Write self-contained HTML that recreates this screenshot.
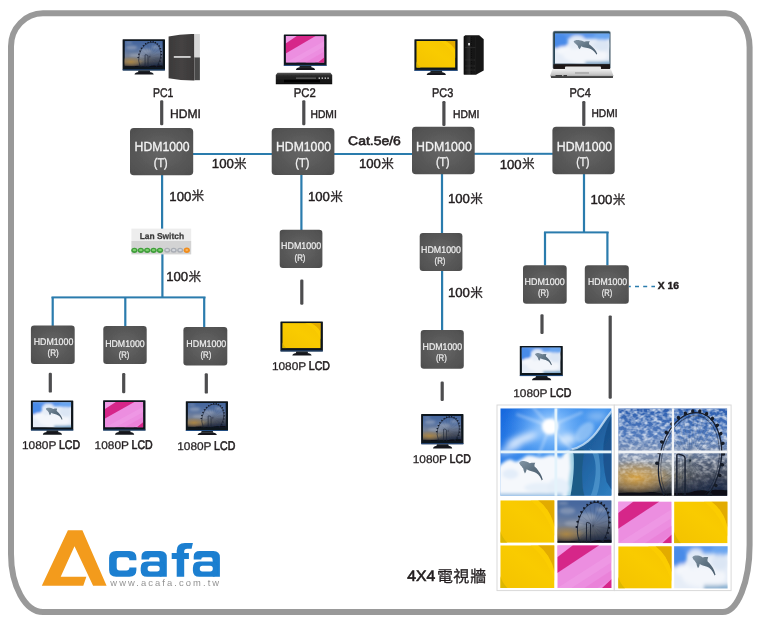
<!DOCTYPE html>
<html><head><meta charset="utf-8"><title>HDM1000</title>
<style>html,body{margin:0;padding:0;background:#fff;}svg{display:block;font-family:"Liberation Sans","Noto Sans CJK TC",sans-serif;text-rendering:geometricPrecision;}</style>
</head><body>
<svg width="760" height="624" viewBox="0 0 760 624">
<defs>

<radialGradient id="gb" cx="50%" cy="50%" r="65%"><stop offset="0" stop-color="#666"/><stop offset="1" stop-color="#4f4f4f"/></radialGradient>
<filter id="b1" x="-20%" y="-20%" width="140%" height="140%"><feGaussianBlur stdDeviation="0.6"/></filter>
<filter id="b2" x="-30%" y="-30%" width="160%" height="160%"><feGaussianBlur stdDeviation="1.6"/></filter>
<filter id="b3" x="-30%" y="-30%" width="160%" height="160%"><feGaussianBlur stdDeviation="3"/></filter>
<filter id="nop" x="0" y="0" width="100%" height="100%" filterUnits="userSpaceOnUse"><feOffset dx="0" dy="0"/></filter>
<filter id="soft"><feGaussianBlur stdDeviation="0.35"/></filter>


<linearGradient id="yl" x1="0" y1="1" x2="1" y2="0"><stop offset="0" stop-color="#f3c200"/><stop offset="0.55" stop-color="#f9cb00"/><stop offset="1" stop-color="#f6c400"/></linearGradient>
<symbol id="sY" viewBox="0 0 54 43" preserveAspectRatio="none">
 <rect width="54" height="43" fill="url(#yl)"/>
 <path d="M37.5 0Q50 9 54 27V0Z" fill="#e2ab00"/>
 <path d="M30 0Q46 12 54 36V27Q50 9 37.5 0Z" fill="#fccf05" opacity="0.7"/>
 <path d="M0 31Q2 38 7 43H0Z" fill="#dcb700"/>
</symbol>
<symbol id="sYm" viewBox="0 0 54 43" preserveAspectRatio="none">
 <rect width="54" height="43" fill="url(#yl)"/>
 <path d="M40 0Q50 6 54 15.5V0Z" fill="#e2ab00"/>
 <path d="M32 0Q47 9 54 28V15.5Q50 6 40 0Z" fill="#fccf05" opacity="0.7"/>
 <path d="M0 33Q2 39 6 43H0Z" fill="#dcb700"/>
</symbol>
<symbol id="sP" viewBox="0 0 54 43" preserveAspectRatio="none">
 <rect width="54" height="43" fill="#ec8ee0"/>
 <path d="M0 0H15.5L0 12Z" fill="#f09ae6"/>
 <path d="M0 12L15.5 0H41.7L0 28Z" fill="#d62789"/>
 <path d="M0 43L54 8V17L14 43Z" fill="#f3a4ea" opacity="0.4"/>
 <path d="M54 25V34L40 43H27Z" fill="#e978d4" opacity="0.55"/>
 <path d="M54 34V43H44.5Z" fill="#d62789"/>
</symbol>


<linearGradient id="dsky" x1="0" y1="0" x2="0.6" y2="1"><stop offset="0" stop-color="#3f82e6"/><stop offset="0.45" stop-color="#6aa2ee"/><stop offset="0.7" stop-color="#cfe0f6"/><stop offset="1" stop-color="#e9f0f9"/></linearGradient>
<linearGradient id="dgr" x1="0" y1="0" x2="1" y2="1"><stop offset="0" stop-color="#8396a6"/><stop offset="0.5" stop-color="#5c7080"/><stop offset="1" stop-color="#4a5d6d"/></linearGradient>
<symbol id="sD" viewBox="0 0 54 36" preserveAspectRatio="none">
 <rect width="54" height="36" fill="#e6edf7"/>
 <g filter="url(#b2)">
  <rect x="-4" y="-6" width="62" height="12" fill="#5b97ec"/>
  <ellipse cx="4" cy="9" rx="9" ry="9" fill="#4a8be8"/>
  <ellipse cx="47" cy="3" rx="9" ry="5" fill="#6aa6f0"/>
  <ellipse cx="22" cy="6" rx="7" ry="4" fill="#dfe9f7"/>
  <ellipse cx="9" cy="20" rx="8" ry="5" fill="#f4f7fb"/>
  <ellipse cx="30" cy="26" rx="22" ry="9" fill="#f3f6fb"/>
  <ellipse cx="46" cy="14" rx="8" ry="7" fill="#dbe6f4"/>
  <rect x="30" y="33.5" width="28" height="4" fill="#6f9fc4"/>
 </g>
 <path d="M0 10C2 6 4 4 6 3C12 0 18 0 24 1C32 2 38 6 44 11C52 8 60 8 67 9C64 15 63 22 64 29C70 35 75 42 79 49C85 58 90 68 93 78L98 96L94 100L91 92C88 84 84 77 79 70C74 64 68 60 62 57C55 54 48 51 41 49L31 43C31 50 28 58 24 64C20 56 18 48 17 39C14 36 12 32 10 27C6 24 4 20 3 17Z" fill="url(#dgr)" transform="translate(18.4 7.7) scale(0.239 0.172)"/>
</symbol>


<linearGradient id="wsky" x1="0" y1="0" x2="1" y2="0.6"><stop offset="0" stop-color="#1566dd"/><stop offset="0.4" stop-color="#3a8cec"/><stop offset="0.7" stop-color="#4a98ee"/><stop offset="1" stop-color="#2a6fc8"/></linearGradient>
<radialGradient id="sun" cx="50%" cy="50%" r="50%"><stop offset="0" stop-color="#fff"/><stop offset="0.25" stop-color="#fff" stop-opacity="0.95"/><stop offset="0.55" stop-color="#cfe6ff" stop-opacity="0.55"/><stop offset="1" stop-color="#9cc8ff" stop-opacity="0"/></radialGradient>
<radialGradient id="sun2" cx="50%" cy="50%" r="50%"><stop offset="0" stop-color="#d8ecff" stop-opacity="0.95"/><stop offset="0.35" stop-color="#8cc4ff" stop-opacity="0.7"/><stop offset="1" stop-color="#4a98ee" stop-opacity="0"/></radialGradient>
<linearGradient id="wav" x1="0" y1="0" x2="1" y2="1"><stop offset="0" stop-color="#2a6aa8"/><stop offset="0.5" stop-color="#1f5f9e"/><stop offset="1" stop-color="#2f7fc0"/></linearGradient>
<symbol id="sDW" viewBox="0 0 111 88" preserveAspectRatio="none">
 <rect width="111" height="88" fill="url(#wsky)"/>
 <ellipse cx="49.6" cy="18.4" rx="46" ry="40" fill="url(#sun2)"/>
 <g filter="url(#b3)">
  <ellipse cx="22" cy="31" rx="17" ry="4.5" fill="#e8f2ff" opacity="0.9" transform="rotate(-20 22 31)"/>
  <ellipse cx="10" cy="41" rx="12" ry="3.5" fill="#dbeaff" opacity="0.8" transform="rotate(-22 10 41)"/>
  <ellipse cx="67" cy="31" rx="9" ry="6" fill="#eef6ff" opacity="0.8"/>
  <ellipse cx="96" cy="8" rx="10" ry="3.5" fill="#bcd9f8" opacity="0.6"/>
 </g>
 <path d="M49.6 18L28 -6M49.6 18L60 -8M49.6 18L82 4M49.6 18L16 6M49.6 18L38 48M49.6 18L72 42" stroke="#fff" stroke-width="2" opacity="0.4" filter="url(#b2)"/>
 <circle cx="49.6" cy="18.4" r="8" fill="#fff" filter="url(#b2)"/>
 <g filter="url(#b1)">
  <path d="M111 3L105.6 10.2Q102 15.5 99 20T92.4 28.3Q88 33 82.6 36.5T71 41.4Q65 44 63 50Q62 60 62 70T58 88H111Z" fill="url(#wav)"/>
  <path d="M111 8C107 16 104 26 103 36C102 48 103 62 106 74L111 82Z" fill="#174b86" opacity="0.75"/>
  <path d="M70 43C74 41 80 40 84 42C82 52 81 64 82 76C82 81 83 85 84 88H66C70 76 71 58 70 43Z" fill="#1f5a84" opacity="0.9"/>
  <path d="M64 47C67 44 71 43 73 46C74 58 73 72 70 88H58C62 76 63 60 64 47Z" fill="#a9d8ea" opacity="0.95"/>
  <path d="M88 40C93 44 96 54 95 66C94 76 92 84 90 88H96C100 78 101 62 98 46Z" fill="#5aa2d6" opacity="0.6"/>
  <path d="M111 3L105.6 10.2Q102 15.5 99 20T92.4 28.3Q88 33 82.6 36.5T71 41.4" stroke="#d6eafa" stroke-width="2.2" fill="none" opacity="0.75"/>
 </g>
 <ellipse cx="84" cy="24" rx="12" ry="7" fill="#cfe6fb" opacity="0.45" transform="rotate(-50 84 24)" filter="url(#b2)"/>
 <g filter="url(#b2)">
  <path d="M-3 60C3 54 8 50 12 52C16 56 20 52 26 48C32 46 38 51 44 49C50 46 56 47 60 50C64 46 66 43 69 42L70 60L66 92H-3Z" fill="#f5f8fc"/>
  <ellipse cx="58" cy="80" rx="11" ry="10" fill="#e6f0fa"/>
  <ellipse cx="10" cy="66" rx="8" ry="5" fill="#dfeaf8" opacity="0.8"/>
  <ellipse cx="40" cy="80" rx="16" ry="5" fill="#e3edf8" opacity="0.8"/>
  <rect x="-2" y="85.5" width="64" height="5" fill="#a9c9e6"/>
 </g>
 <path d="M0 10C2 6 4 4 6 3C12 0 18 0 24 1C32 2 38 6 44 11C52 8 60 8 67 9C64 15 63 22 64 29C70 35 75 42 79 49C85 58 90 68 93 78L98 96L94 100L91 92C88 84 84 77 79 70C74 64 68 60 62 57C55 54 48 51 41 49L31 43C31 50 28 58 24 64C20 56 18 48 17 39C14 36 12 32 10 27C6 24 4 20 3 17Z" fill="url(#dgr)" transform="translate(18.8 53) scale(0.24 0.195)"/>
</symbol>


<linearGradient id="fsky" x1="0" y1="0" x2="0" y2="1"><stop offset="0" stop-color="#2d5fb0"/><stop offset="0.3" stop-color="#4f78bb"/><stop offset="0.55" stop-color="#7d8fae"/><stop offset="0.78" stop-color="#8d8672"/><stop offset="0.9" stop-color="#4a4a4c"/><stop offset="1" stop-color="#0e1218"/></linearGradient>
<radialGradient id="fglow" cx="50%" cy="50%" r="50%"><stop offset="0" stop-color="#d9a23e" stop-opacity="0.95"/><stop offset="0.6" stop-color="#c99a50" stop-opacity="0.5"/><stop offset="1" stop-color="#c09050" stop-opacity="0"/></radialGradient>
<radialGradient id="fdk" cx="50%" cy="50%" r="50%"><stop offset="0" stop-color="#16264a" stop-opacity="0.8"/><stop offset="0.5" stop-color="#16264a" stop-opacity="0.55"/><stop offset="1" stop-color="#1b2a4a" stop-opacity="0"/></radialGradient>
<linearGradient id="cmask" x1="0" y1="0" x2="0" y2="1"><stop offset="0" stop-color="#fff"/><stop offset="0.6" stop-color="#ddd"/><stop offset="0.85" stop-color="#333"/><stop offset="1" stop-color="#000"/></linearGradient>
<mask id="cm" maskUnits="userSpaceOnUse" x="0" y="0" width="109" height="88"><rect width="109" height="88" fill="url(#cmask)"/></mask>
<filter id="cl" x="0" y="0" width="109" height="88" filterUnits="userSpaceOnUse" primitiveUnits="userSpaceOnUse">
 <feTurbulence type="fractalNoise" baseFrequency="0.2 0.27" numOctaves="2" seed="7"/>
 <feColorMatrix type="matrix" values="0 0 0 0 1  0 0 0 0 1  0 0 0 0 1  2.6 0 0 0 -0.95"/>
 <feGaussianBlur stdDeviation="0.6"/>
</filter>
<symbol id="sF" viewBox="0 0 109 88" preserveAspectRatio="none">
 <rect width="109" height="88" fill="url(#fsky)"/>
 <ellipse cx="18" cy="70" rx="36" ry="18" fill="url(#fglow)"/>
 <ellipse cx="100" cy="80" rx="58" ry="42" fill="url(#fdk)"/>
 <g mask="url(#cm)"><rect width="109" height="88" fill="#fff" filter="url(#cl)" opacity="0.7"/></g>
 <path d="M0 85.5C10 84 20 85.5 30 84.5C36 83 40 86 48 86C56 84.5 64 86 70 85C76 83 84 81 90 83.5C96 81 104 82 109 82.5V88H0Z" fill="#0b0e14"/>
 <g fill="none" stroke="#1a2233">
  <ellipse cx="71.8" cy="52.8" rx="30.7" ry="49.0" transform="rotate(11.1 71.8 52.8)" stroke-width="1.3"/>
  <ellipse cx="71.8" cy="52.8" rx="28.5" ry="46.0" transform="rotate(11.1 71.8 52.8)" stroke-width="0.6" opacity="0.8"/>
  <path d="M71.8 52.8L101.9 58.7M71.8 52.8L99.8 67.0M71.8 52.8L96.9 74.8M71.8 52.8L93.2 82.0M71.8 52.8L88.8 88.2M71.8 52.8L83.9 93.4M71.8 52.8L78.7 97.4M71.8 52.8L73.2 100.0M71.8 52.8L67.7 101.2M71.8 52.8L62.4 100.9M71.8 52.8L57.3 99.1M71.8 52.8L52.6 96.0M71.8 52.8L48.6 91.5M71.8 52.8L45.2 85.8M71.8 52.8L42.7 79.2M71.8 52.8L41.0 71.7M71.8 52.8L40.3 63.7M71.8 52.8L40.5 55.3M71.8 52.8L41.7 46.9M71.8 52.8L43.8 38.6M71.8 52.8L46.7 30.8M71.8 52.8L50.4 23.6M71.8 52.8L54.8 17.4M71.8 52.8L59.7 12.2M71.8 52.8L64.9 8.2M71.8 52.8L70.4 5.6M71.8 52.8L75.9 4.4M71.8 52.8L81.2 4.7M71.8 52.8L86.3 6.5M71.8 52.8L91.0 9.6M71.8 52.8L95.0 14.1M71.8 52.8L98.4 19.8M71.8 52.8L100.9 26.4M71.8 52.8L102.6 33.9M71.8 52.8L103.3 41.9M71.8 52.8L103.1 50.3" stroke-width="0.25" opacity="0.55"/>
  <path d="M58.6 88V47.5Q58.6 45.6 60.5 46L65 47.6Q66.8 48.4 66.8 50.2V88" stroke-width="1.5"/>
  <path d="M60.8 88V50M64.6 88V52" stroke-width="0.5" opacity="0.7"/>
 </g>
 <g fill="#141a28"><ellipse cx="38.9" cy="55.3" rx="1.7" ry="2.1" transform="rotate(-89 38.9 55.3)"/><ellipse cx="40.6" cy="44.4" rx="1.7" ry="2.1" transform="rotate(-76 40.6 44.4)"/><ellipse cx="43.7" cy="33.9" rx="1.7" ry="2.1" transform="rotate(-64 43.7 33.9)"/><ellipse cx="48.2" cy="24.4" rx="1.7" ry="2.1" transform="rotate(-51 48.2 24.4)"/><ellipse cx="53.8" cy="16.1" rx="1.7" ry="2.1" transform="rotate(-39 53.8 16.1)"/><ellipse cx="60.2" cy="9.6" rx="1.7" ry="2.1" transform="rotate(-26 60.2 9.6)"/><ellipse cx="67.2" cy="5.2" rx="1.7" ry="2.1" transform="rotate(-14 67.2 5.2)"/><ellipse cx="74.5" cy="3.0" rx="1.7" ry="2.1" transform="rotate(-1 74.5 3.0)"/><ellipse cx="81.5" cy="3.1" rx="1.7" ry="2.1" transform="rotate(11 81.5 3.1)"/><ellipse cx="88.2" cy="5.7" rx="1.7" ry="2.1" transform="rotate(24 88.2 5.7)"/><ellipse cx="94.0" cy="10.4" rx="1.7" ry="2.1" transform="rotate(36 94.0 10.4)"/><ellipse cx="98.8" cy="17.2" rx="1.7" ry="2.1" transform="rotate(49 98.8 17.2)"/><ellipse cx="102.3" cy="25.6" rx="1.7" ry="2.1" transform="rotate(61 102.3 25.6)"/><ellipse cx="104.4" cy="35.4" rx="1.7" ry="2.1" transform="rotate(74 104.4 35.4)"/><ellipse cx="104.9" cy="46.0" rx="1.7" ry="2.1" transform="rotate(86 104.9 46.0)"/><ellipse cx="103.9" cy="56.8" rx="1.7" ry="2.1" transform="rotate(99 103.9 56.8)"/><ellipse cx="101.3" cy="67.5" rx="1.7" ry="2.1" transform="rotate(111 101.3 67.5)"/><ellipse cx="97.4" cy="77.5" rx="1.7" ry="2.1" transform="rotate(124 97.4 77.5)"/><ellipse cx="92.2" cy="86.4" rx="1.7" ry="2.1" transform="rotate(136 92.2 86.4)"/></g>
</symbol>

<symbol id="sFs" viewBox="0 0 109 88" preserveAspectRatio="none">
 <rect width="109" height="88" fill="url(#fsky)"/>
 <ellipse cx="18" cy="70" rx="36" ry="18" fill="url(#fglow)"/>
 <ellipse cx="100" cy="80" rx="58" ry="42" fill="url(#fdk)"/>
 <g mask="url(#cm)"><rect width="109" height="88" fill="#fff" opacity="0.16"/>
  <g filter="url(#b3)" fill="#fff" opacity="0.4"><ellipse cx="20" cy="22" rx="16" ry="7"/><ellipse cx="60" cy="34" rx="18" ry="8"/><ellipse cx="34" cy="48" rx="20" ry="6"/><ellipse cx="88" cy="20" rx="10" ry="5"/><ellipse cx="12" cy="6" rx="10" ry="3"/></g></g>
 <rect width="109" height="88" fill="#20283a" opacity="0.25"/>
 <path d="M0 85.5C10 84 20 85.5 30 84.5C36 83 40 86 48 86C56 84.5 64 86 70 85C76 83 84 81 90 83.5C96 81 104 82 109 82.5V88H0Z" fill="#0b0e14"/>
 <g fill="none" stroke="#1a2233">
  <ellipse cx="71.8" cy="52.8" rx="30.7" ry="49.0" transform="rotate(11.1 71.8 52.8)" stroke-width="1.7"/>
  <path d="M71.8 52.8L101.9 58.7M71.8 52.8L96.9 74.8M71.8 52.8L88.8 88.2M71.8 52.8L78.7 97.4M71.8 52.8L67.7 101.2M71.8 52.8L57.3 99.1M71.8 52.8L48.6 91.5M71.8 52.8L42.7 79.2M71.8 52.8L40.3 63.7M71.8 52.8L41.7 46.9M71.8 52.8L46.7 30.8M71.8 52.8L54.8 17.4M71.8 52.8L64.9 8.2M71.8 52.8L75.9 4.4M71.8 52.8L86.3 6.5M71.8 52.8L95.0 14.1M71.8 52.8L100.9 26.4M71.8 52.8L103.3 41.9" stroke-width="0.5" opacity="0.4"/>
  <path d="M58.6 88V47.5Q58.6 45.6 60.5 46L65 47.6Q66.8 48.4 66.8 50.2V88" stroke-width="1.9"/>
 </g>
 <g fill="#141a28" transform="translate(71.8 52.8) scale(1.0) translate(-71.8 -52.8)"><ellipse cx="38.9" cy="55.3" rx="2.0" ry="2.5" transform="rotate(-89 38.9 55.3)"/><ellipse cx="40.6" cy="44.4" rx="2.0" ry="2.5" transform="rotate(-76 40.6 44.4)"/><ellipse cx="43.7" cy="33.9" rx="2.0" ry="2.5" transform="rotate(-64 43.7 33.9)"/><ellipse cx="48.2" cy="24.4" rx="2.0" ry="2.5" transform="rotate(-51 48.2 24.4)"/><ellipse cx="53.8" cy="16.1" rx="2.0" ry="2.5" transform="rotate(-39 53.8 16.1)"/><ellipse cx="60.2" cy="9.6" rx="2.0" ry="2.5" transform="rotate(-26 60.2 9.6)"/><ellipse cx="67.2" cy="5.2" rx="2.0" ry="2.5" transform="rotate(-14 67.2 5.2)"/><ellipse cx="74.5" cy="3.0" rx="2.0" ry="2.5" transform="rotate(-1 74.5 3.0)"/><ellipse cx="81.5" cy="3.1" rx="2.0" ry="2.5" transform="rotate(11 81.5 3.1)"/><ellipse cx="88.2" cy="5.7" rx="2.0" ry="2.5" transform="rotate(24 88.2 5.7)"/><ellipse cx="94.0" cy="10.4" rx="2.0" ry="2.5" transform="rotate(36 94.0 10.4)"/><ellipse cx="98.8" cy="17.2" rx="2.0" ry="2.5" transform="rotate(49 98.8 17.2)"/><ellipse cx="102.3" cy="25.6" rx="2.0" ry="2.5" transform="rotate(61 102.3 25.6)"/><ellipse cx="104.4" cy="35.4" rx="2.0" ry="2.5" transform="rotate(74 104.4 35.4)"/><ellipse cx="104.9" cy="46.0" rx="2.0" ry="2.5" transform="rotate(86 104.9 46.0)"/><ellipse cx="103.9" cy="56.8" rx="2.0" ry="2.5" transform="rotate(99 103.9 56.8)"/><ellipse cx="101.3" cy="67.5" rx="2.0" ry="2.5" transform="rotate(111 101.3 67.5)"/><ellipse cx="97.4" cy="77.5" rx="2.0" ry="2.5" transform="rotate(124 97.4 77.5)"/><ellipse cx="92.2" cy="86.4" rx="2.0" ry="2.5" transform="rotate(136 92.2 86.4)"/></g>
</symbol>


<linearGradient id="twr" x1="0" y1="0" x2="1" y2="0"><stop offset="0" stop-color="#3b3939"/><stop offset="0.5" stop-color="#454343"/><stop offset="1" stop-color="#3a3838"/></linearGradient>
<linearGradient id="slim" x1="0" y1="0" x2="1" y2="0"><stop offset="0" stop-color="#0d0d0d"/><stop offset="0.45" stop-color="#2b2b2b"/><stop offset="0.6" stop-color="#111"/><stop offset="1" stop-color="#1d1d1d"/></linearGradient>
<linearGradient id="dvd" x1="0" y1="0" x2="0" y2="1"><stop offset="0" stop-color="#5a5a5a"/><stop offset="0.25" stop-color="#2a2a2a"/><stop offset="1" stop-color="#0c0c0c"/></linearGradient>
<linearGradient id="lap" x1="0" y1="0" x2="0" y2="1"><stop offset="0" stop-color="#f0f0f0"/><stop offset="0.6" stop-color="#c9c9c9"/><stop offset="1" stop-color="#8a8a8a"/></linearGradient>

<filter id="jpg" x="0" y="0" width="760" height="624" filterUnits="userSpaceOnUse"><feGaussianBlur stdDeviation="0.45"/></filter>
</defs>
<rect width="760" height="624" fill="#fff"/>
<g filter="url(#jpg)">
<path d="M43 13.3H725.6A24 34 0 0 1 749.6 47.3V545A27 67 0 0 1 722.6 612H43A32 58 0 0 1 11 554V46.3A32 33 0 0 1 43 13.3Z" fill="#fff" stroke="#999" stroke-width="6"/>
<g id="lines">
<rect x="193.0" y="153.0" width="79.0" height="2" fill="#2b7bad"/>
<rect x="334.0" y="153.0" width="78.0" height="2" fill="#2b7bad"/>
<rect x="474.0" y="152.8" width="79.0" height="2" fill="#2b7bad"/>
<rect x="161.0" y="175.0" width="2.2" height="54.0" fill="#2b7bad"/>
<rect x="161.3" y="254.0" width="2.2" height="43.4" fill="#2b7bad"/>
<rect x="51.5" y="296.4" width="154.0" height="2" fill="#2b7bad"/>
<rect x="51.6" y="297.0" width="2.2" height="29.0" fill="#2b7bad"/>
<rect x="124.2" y="297.0" width="2.2" height="29.0" fill="#2b7bad"/>
<rect x="203.1" y="297.0" width="2.2" height="30.5" fill="#2b7bad"/>
<rect x="300.3" y="175.0" width="2.2" height="55.5" fill="#2b7bad"/>
<rect x="440.9" y="174.0" width="2.2" height="59.0" fill="#2b7bad"/>
<rect x="441.0" y="271.0" width="2.2" height="59.5" fill="#2b7bad"/>
<rect x="582.9" y="174.0" width="2.2" height="58.5" fill="#2b7bad"/>
<rect x="544.0" y="231.4" width="64.6" height="2" fill="#2b7bad"/>
<rect x="543.9" y="232.0" width="2.2" height="33.5" fill="#2b7bad"/>
<rect x="606.3" y="232.0" width="2.2" height="33.5" fill="#2b7bad"/>
<path d="M628.8 286.5H655" stroke="#2b7bad" stroke-width="1.3" stroke-dasharray="4 4.2" stroke-dashoffset="2" fill="none"/>
</g>
<g id="dlines">
<rect x="160.1" y="100.3" width="3.2" height="25.0" rx="1.2" fill="#4d4d4f"/>
<rect x="302.2" y="100.3" width="3.2" height="25.0" rx="1.2" fill="#4d4d4f"/>
<rect x="442.3" y="101.0" width="3.2" height="25.0" rx="1.2" fill="#4d4d4f"/>
<rect x="582.2" y="101.0" width="3.2" height="25.0" rx="1.2" fill="#4d4d4f"/>
<rect x="48.7" y="372.7" width="3.2" height="19.9" rx="1.2" fill="#4d4d4f"/>
<rect x="122.1" y="373.0" width="3.2" height="20.3" rx="1.2" fill="#4d4d4f"/>
<rect x="204.7" y="373.3" width="3.2" height="20.3" rx="1.2" fill="#4d4d4f"/>
<rect x="300.2" y="279.6" width="3.2" height="25.1" rx="1.2" fill="#4d4d4f"/>
<rect x="440.6" y="381.6" width="3.2" height="19.4" rx="1.2" fill="#4d4d4f"/>
<rect x="540.4" y="314.2" width="3.2" height="19.8" rx="1.2" fill="#4d4d4f"/>
<rect x="608.6" y="315.4" width="3.2" height="83.3" rx="1.2" fill="#4d4d4f"/>
</g>
<g id="rects"><rect x="130" y="128" width="63.2" height="47.3" rx="3.8" fill="url(#gb)"/><rect x="271.7" y="128" width="62.7" height="47.0" rx="3.8" fill="url(#gb)"/><rect x="412" y="126.8" width="62.7" height="47.5" rx="3.8" fill="url(#gb)"/><rect x="552.4" y="126.8" width="62.3" height="47.5" rx="3.8" fill="url(#gb)"/><rect x="30.9" y="325.6" width="43.8" height="38.3" rx="3.2" fill="url(#gb)"/><rect x="103.3" y="326" width="43.4" height="37.9" rx="3.2" fill="url(#gb)"/><rect x="183.4" y="327" width="43.9" height="38.4" rx="3.2" fill="url(#gb)"/><rect x="279.7" y="229.8" width="42.7" height="38.2" rx="3.2" fill="url(#gb)"/><rect x="419.7" y="233" width="42.7" height="38.0" rx="3.2" fill="url(#gb)"/><rect x="420.7" y="330.1" width="43.1" height="38.6" rx="3.2" fill="url(#gb)"/><rect x="523" y="265.3" width="43.7" height="38.4" rx="3.2" fill="url(#gb)"/><rect x="584.8" y="265.3" width="44.0" height="38.4" rx="3.2" fill="url(#gb)"/></g>
<g id="alltext" filter="url(#nop)">
<text x="134.6" y="151.4" font-size="13.2" font-weight="normal" fill="#f4f4f4" textLength="55.0" lengthAdjust="spacingAndGlyphs"  stroke="#f4f4f4" stroke-width="0.3">HDM1000</text><text x="153.8" y="167.1" font-size="12.6" font-weight="normal" fill="#f4f4f4" textLength="13.9" lengthAdjust="spacingAndGlyphs"  stroke="#f4f4f4" stroke-width="0.3">(T)</text>
<text x="276.0" y="151.4" font-size="13.2" font-weight="normal" fill="#f4f4f4" textLength="55.0" lengthAdjust="spacingAndGlyphs"  stroke="#f4f4f4" stroke-width="0.3">HDM1000</text><text x="295.3" y="167.1" font-size="12.6" font-weight="normal" fill="#f4f4f4" textLength="14.0" lengthAdjust="spacingAndGlyphs"  stroke="#f4f4f4" stroke-width="0.3">(T)</text>
<text x="416.0" y="150.7" font-size="13.2" font-weight="normal" fill="#f4f4f4" textLength="55.8" lengthAdjust="spacingAndGlyphs"  stroke="#f4f4f4" stroke-width="0.3">HDM1000</text><text x="436.0" y="166.3" font-size="12.6" font-weight="normal" fill="#f4f4f4" textLength="13.6" lengthAdjust="spacingAndGlyphs"  stroke="#f4f4f4" stroke-width="0.3">(T)</text>
<text x="556.8" y="150.7" font-size="13.2" font-weight="normal" fill="#f4f4f4" textLength="55.4" lengthAdjust="spacingAndGlyphs"  stroke="#f4f4f4" stroke-width="0.3">HDM1000</text><text x="576.3" y="166.3" font-size="12.6" font-weight="normal" fill="#f4f4f4" textLength="13.3" lengthAdjust="spacingAndGlyphs"  stroke="#f4f4f4" stroke-width="0.3">(T)</text>
<text x="33.7" y="345.0" font-size="9.7" font-weight="normal" fill="#f0f0f0" textLength="39.6" lengthAdjust="spacingAndGlyphs"  stroke="#f0f0f0" stroke-width="0.2">HDM1000</text><text x="47.5" y="355.8" font-size="9.6" font-weight="normal" fill="#f0f0f0" textLength="11.3" lengthAdjust="spacingAndGlyphs"  stroke="#f0f0f0" stroke-width="0.2">(R)</text>
<text x="105.2" y="346.9" font-size="9.7" font-weight="normal" fill="#f0f0f0" textLength="39.5" lengthAdjust="spacingAndGlyphs"  stroke="#f0f0f0" stroke-width="0.2">HDM1000</text><text x="118.7" y="358.2" font-size="9.6" font-weight="normal" fill="#f0f0f0" textLength="10.7" lengthAdjust="spacingAndGlyphs"  stroke="#f0f0f0" stroke-width="0.2">(R)</text>
<text x="186.3" y="346.9" font-size="9.7" font-weight="normal" fill="#f0f0f0" textLength="40.0" lengthAdjust="spacingAndGlyphs"  stroke="#f0f0f0" stroke-width="0.2">HDM1000</text><text x="200.5" y="358.2" font-size="9.6" font-weight="normal" fill="#f0f0f0" textLength="10.9" lengthAdjust="spacingAndGlyphs"  stroke="#f0f0f0" stroke-width="0.2">(R)</text>
<text x="281.1" y="249.2" font-size="9.7" font-weight="normal" fill="#f0f0f0" textLength="40.1" lengthAdjust="spacingAndGlyphs"  stroke="#f0f0f0" stroke-width="0.2">HDM1000</text><text x="294.6" y="261.1" font-size="9.6" font-weight="normal" fill="#f0f0f0" textLength="10.8" lengthAdjust="spacingAndGlyphs"  stroke="#f0f0f0" stroke-width="0.2">(R)</text>
<text x="421.1" y="252.5" font-size="9.7" font-weight="normal" fill="#f0f0f0" textLength="39.8" lengthAdjust="spacingAndGlyphs"  stroke="#f0f0f0" stroke-width="0.2">HDM1000</text><text x="434.6" y="263.9" font-size="9.6" font-weight="normal" fill="#f0f0f0" textLength="10.8" lengthAdjust="spacingAndGlyphs"  stroke="#f0f0f0" stroke-width="0.2">(R)</text>
<text x="422.6" y="349.5" font-size="9.7" font-weight="normal" fill="#f0f0f0" textLength="39.5" lengthAdjust="spacingAndGlyphs"  stroke="#f0f0f0" stroke-width="0.2">HDM1000</text><text x="436.0" y="360.6" font-size="9.6" font-weight="normal" fill="#f0f0f0" textLength="10.9" lengthAdjust="spacingAndGlyphs"  stroke="#f0f0f0" stroke-width="0.2">(R)</text>
<text x="524.5" y="284.9" font-size="9.7" font-weight="normal" fill="#f0f0f0" textLength="40.2" lengthAdjust="spacingAndGlyphs"  stroke="#f0f0f0" stroke-width="0.2">HDM1000</text><text x="537.9" y="295.8" font-size="9.6" font-weight="normal" fill="#f0f0f0" textLength="10.9" lengthAdjust="spacingAndGlyphs"  stroke="#f0f0f0" stroke-width="0.2">(R)</text>
<text x="588.0" y="284.9" font-size="9.7" font-weight="normal" fill="#f0f0f0" textLength="39.1" lengthAdjust="spacingAndGlyphs"  stroke="#f0f0f0" stroke-width="0.2">HDM1000</text><text x="601.8" y="295.8" font-size="9.6" font-weight="normal" fill="#f0f0f0" textLength="10.5" lengthAdjust="spacingAndGlyphs"  stroke="#f0f0f0" stroke-width="0.2">(R)</text>
<text x="153.0" y="97.0" font-size="12.6" font-weight="normal" fill="#231f20" textLength="20.4" lengthAdjust="spacingAndGlyphs"  stroke="#231f20" stroke-width="0.42">PC1</text>
<text x="293.8" y="97.4" font-size="12.6" font-weight="normal" fill="#231f20" textLength="22.0" lengthAdjust="spacingAndGlyphs"  stroke="#231f20" stroke-width="0.42">PC2</text>
<text x="432.0" y="97.0" font-size="12.6" font-weight="normal" fill="#231f20" textLength="21.2" lengthAdjust="spacingAndGlyphs"  stroke="#231f20" stroke-width="0.42">PC3</text>
<text x="569.4" y="97.0" font-size="12.6" font-weight="normal" fill="#231f20" textLength="21.4" lengthAdjust="spacingAndGlyphs"  stroke="#231f20" stroke-width="0.42">PC4</text>
<text x="170.0" y="117.7" font-size="12.3" font-weight="normal" fill="#231f20" textLength="30.9" lengthAdjust="spacingAndGlyphs"  stroke="#231f20" stroke-width="0.42">HDMI</text>
<text x="310.5" y="117.7" font-size="11.2" font-weight="normal" fill="#231f20" textLength="26.3" lengthAdjust="spacingAndGlyphs"  stroke="#231f20" stroke-width="0.42">HDMI</text>
<text x="453.0" y="117.7" font-size="11.2" font-weight="normal" fill="#231f20" textLength="26.4" lengthAdjust="spacingAndGlyphs"  stroke="#231f20" stroke-width="0.42">HDMI</text>
<text x="591.5" y="116.9" font-size="11.2" font-weight="normal" fill="#231f20" textLength="26.1" lengthAdjust="spacingAndGlyphs"  stroke="#231f20" stroke-width="0.42">HDMI</text>
<text x="348.1" y="144.9" font-size="12.4" font-weight="normal" fill="#231f20" textLength="52.8" lengthAdjust="spacingAndGlyphs"  stroke="#231f20" stroke-width="0.55">Cat.5e/6</text>
<text x="211.8" y="168.4" font-size="13" font-weight="normal" fill="#231f20" textLength="22.0" lengthAdjust="spacingAndGlyphs"  stroke="#231f20" stroke-width="0.42">100</text>
<text x="234.1" y="168.1" font-size="12.6" font-family='"Liberation Sans","Noto Sans CJK TC",sans-serif' fill="#231f20" stroke="#231f20" stroke-width="0.3">米</text>
<text x="358.9" y="168.4" font-size="13" font-weight="normal" fill="#231f20" textLength="22.0" lengthAdjust="spacingAndGlyphs"  stroke="#231f20" stroke-width="0.42">100</text>
<text x="381.2" y="168.1" font-size="12.6" font-family='"Liberation Sans","Noto Sans CJK TC",sans-serif' fill="#231f20" stroke="#231f20" stroke-width="0.3">米</text>
<text x="499.7" y="168.6" font-size="13" font-weight="normal" fill="#231f20" textLength="22.0" lengthAdjust="spacingAndGlyphs"  stroke="#231f20" stroke-width="0.42">100</text>
<text x="522.0" y="168.3" font-size="12.6" font-family='"Liberation Sans","Noto Sans CJK TC",sans-serif' fill="#231f20" stroke="#231f20" stroke-width="0.3">米</text>
<text x="169.3" y="200.6" font-size="13" font-weight="normal" fill="#231f20" textLength="22.0" lengthAdjust="spacingAndGlyphs"  stroke="#231f20" stroke-width="0.42">100</text>
<text x="191.6" y="200.3" font-size="12.6" font-family='"Liberation Sans","Noto Sans CJK TC",sans-serif' fill="#231f20" stroke="#231f20" stroke-width="0.3">米</text>
<text x="166.2" y="281.3" font-size="13" font-weight="normal" fill="#231f20" textLength="22.0" lengthAdjust="spacingAndGlyphs"  stroke="#231f20" stroke-width="0.42">100</text>
<text x="188.5" y="281.0" font-size="12.6" font-family='"Liberation Sans","Noto Sans CJK TC",sans-serif' fill="#231f20" stroke="#231f20" stroke-width="0.3">米</text>
<text x="307.9" y="200.8" font-size="13" font-weight="normal" fill="#231f20" textLength="22.0" lengthAdjust="spacingAndGlyphs"  stroke="#231f20" stroke-width="0.42">100</text>
<text x="330.2" y="200.5" font-size="12.6" font-family='"Liberation Sans","Noto Sans CJK TC",sans-serif' fill="#231f20" stroke="#231f20" stroke-width="0.3">米</text>
<text x="447.9" y="203.4" font-size="13" font-weight="normal" fill="#231f20" textLength="22.0" lengthAdjust="spacingAndGlyphs"  stroke="#231f20" stroke-width="0.42">100</text>
<text x="470.2" y="203.1" font-size="12.6" font-family='"Liberation Sans","Noto Sans CJK TC",sans-serif' fill="#231f20" stroke="#231f20" stroke-width="0.3">米</text>
<text x="447.9" y="297.2" font-size="13" font-weight="normal" fill="#231f20" textLength="22.0" lengthAdjust="spacingAndGlyphs"  stroke="#231f20" stroke-width="0.42">100</text>
<text x="470.2" y="296.9" font-size="12.6" font-family='"Liberation Sans","Noto Sans CJK TC",sans-serif' fill="#231f20" stroke="#231f20" stroke-width="0.3">米</text>
<text x="590.4" y="204.1" font-size="13" font-weight="normal" fill="#231f20" textLength="22.0" lengthAdjust="spacingAndGlyphs"  stroke="#231f20" stroke-width="0.42">100</text>
<text x="612.7" y="203.8" font-size="12.6" font-family='"Liberation Sans","Noto Sans CJK TC",sans-serif' fill="#231f20" stroke="#231f20" stroke-width="0.3">米</text>
<text x="22.0" y="448.7" font-size="11.2" font-weight="normal" fill="#231f20" textLength="34.3" lengthAdjust="spacingAndGlyphs"  stroke="#231f20" stroke-width="0.25">1080P</text>
<text x="58.9" y="448.7" font-size="12.6" font-weight="normal" fill="#231f20" textLength="21.2" lengthAdjust="spacingAndGlyphs"  stroke="#231f20" stroke-width="0.65">LCD</text>
<text x="94.6" y="448.6" font-size="11.2" font-weight="normal" fill="#231f20" textLength="34.3" lengthAdjust="spacingAndGlyphs"  stroke="#231f20" stroke-width="0.25">1080P</text>
<text x="131.5" y="448.6" font-size="12.6" font-weight="normal" fill="#231f20" textLength="21.2" lengthAdjust="spacingAndGlyphs"  stroke="#231f20" stroke-width="0.65">LCD</text>
<text x="177.2" y="449.7" font-size="11.2" font-weight="normal" fill="#231f20" textLength="34.3" lengthAdjust="spacingAndGlyphs"  stroke="#231f20" stroke-width="0.25">1080P</text>
<text x="214.1" y="449.7" font-size="12.6" font-weight="normal" fill="#231f20" textLength="21.2" lengthAdjust="spacingAndGlyphs"  stroke="#231f20" stroke-width="0.65">LCD</text>
<text x="271.9" y="370.2" font-size="11.2" font-weight="normal" fill="#231f20" textLength="34.3" lengthAdjust="spacingAndGlyphs"  stroke="#231f20" stroke-width="0.25">1080P</text>
<text x="308.8" y="370.2" font-size="12.6" font-weight="normal" fill="#231f20" textLength="21.2" lengthAdjust="spacingAndGlyphs"  stroke="#231f20" stroke-width="0.65">LCD</text>
<text x="412.7" y="462.8" font-size="11.2" font-weight="normal" fill="#231f20" textLength="34.3" lengthAdjust="spacingAndGlyphs"  stroke="#231f20" stroke-width="0.25">1080P</text>
<text x="449.6" y="462.8" font-size="12.6" font-weight="normal" fill="#231f20" textLength="21.2" lengthAdjust="spacingAndGlyphs"  stroke="#231f20" stroke-width="0.65">LCD</text>
<text x="513.2" y="397.1" font-size="11.2" font-weight="normal" fill="#231f20" textLength="34.3" lengthAdjust="spacingAndGlyphs"  stroke="#231f20" stroke-width="0.25">1080P</text>
<text x="550.1" y="397.1" font-size="12.6" font-weight="normal" fill="#231f20" textLength="21.2" lengthAdjust="spacingAndGlyphs"  stroke="#231f20" stroke-width="0.65">LCD</text>
<text x="657.8" y="288.6" font-size="10.2" font-weight="bold" fill="#231f20" textLength="21.2" lengthAdjust="spacingAndGlyphs"  stroke="#231f20" stroke-width="0.42">X 16</text>
<text x="407.3" y="581.4" font-size="15.2" font-weight="normal" fill="#231f20" textLength="28.0" lengthAdjust="spacingAndGlyphs"  stroke="#231f20" stroke-width="0.6">4X4</text>
<text x="437 453.2 470.2" y="582" font-size="16" font-family='"Liberation Sans","Noto Sans CJK TC",sans-serif' fill="#231f20" stroke="#231f20" stroke-width="0.3">電視牆</text>
</g>
<g id="devices">
<rect x="122.6" y="39.2" width="42.4" height="31.2" rx="0.6" fill="#11161c"/><rect x="122.6" y="69.5" width="42.4" height="0.9" fill="#27558f"/><use href="#sFs" x="124.5" y="40.9" width="38.3" height="26.4"/><path d="M138.5 70.4H149.7L150.3 72.3H137.9Z" fill="#1b2026"/><path d="M134.5 74.6Q134.9 72.1 139.1 71.9H149.1Q153.3 72.1 153.7 74.6Z" fill="#14181d"/>
<path d="M168.6 36.6Q181 33.6 194.4 34V80.5Q181 80.6 168.6 78.2Z" fill="url(#twr)"/>
<rect x="194.4" y="34" width="5.5" height="23.4" fill="#d6d6d6"/><rect x="194.4" y="57.4" width="5.5" height="22.8" fill="#4a4a4a"/>
<rect x="173.8" y="56" width="16.8" height="1.9" fill="#cdcdcd"/>
<rect x="283.8" y="34.4" width="42.8" height="31.4" rx="0.6" fill="#11161c"/><rect x="283.8" y="64.9" width="42.8" height="0.9" fill="#27558f"/><use href="#sP" x="285.7" y="36.1" width="38.7" height="26.6"/><path d="M299.9 65.8H311.1L311.7 67.7H299.3Z" fill="#1b2026"/><path d="M295.9 70.0Q296.3 67.5 300.5 67.3H310.5Q314.7 67.5 315.1 70.0Z" fill="#14181d"/>
<path d="M277.6 72.8H330.4L332.2 75V84.3H275.8V75Z" fill="url(#dvd)"/>
<rect x="284" y="79.6" width="36" height="3.2" fill="#050505"/><rect x="296" y="77.4" width="20" height="1.6" fill="#555"/>
<g fill="#ddd"><rect x="318.6" y="77.5" width="1.4" height="1.3"/><rect x="321.6" y="77.5" width="1.4" height="1.3"/><rect x="324.6" y="77.5" width="1.4" height="1.3"/><rect x="327.4" y="77.5" width="1.4" height="1.3"/></g>
<rect x="414.4" y="39.2" width="43.2" height="31.6" rx="0.6" fill="#11161c"/><rect x="414.4" y="69.9" width="43.2" height="0.9" fill="#27558f"/><use href="#sYm" x="416.3" y="40.9" width="39.1" height="26.8"/><path d="M430.7 70.8H441.9L442.5 72.7H430.1Z" fill="#1b2026"/><path d="M426.7 75.0Q427.1 72.5 431.3 72.3H441.3Q445.5 72.5 445.9 75.0Z" fill="#14181d"/>
<path d="M463.8 36.4L465.2 35.2H479.2L483.7 39.2V70.6L476.3 74.5H463.8Z" fill="#161616"/>
<path d="M463.8 36.4H476.3V74.5H463.8Z" fill="url(#slim)"/>
<rect x="468.2" y="43" width="1.7" height="2.4" fill="#e8e8e8"/>
<path d="M465.2 47.5H475.6M465.2 60H475.6M465.2 66H475.6M465.2 70H475.6" stroke="#3c3c3c" stroke-width="0.5"/>
<rect x="552.9" y="31.1" width="57.6" height="38" rx="1.8" fill="#2b4656"/>
<rect x="552.9" y="31.1" width="57.6" height="38" rx="1.8" fill="none" stroke="#a3adb3" stroke-width="0.6"/>
<use href="#sD" x="555" y="33.6" width="54.6" height="30.2"/>
<rect x="553.4" y="64.3" width="56.6" height="4.6" fill="#1f1615"/>
<path d="M552.4 69H610.8L613.4 75.6Q613.4 77.8 611 77.8H552.6Q550.2 77.8 550.2 75.6Z" fill="url(#lap)"/>
<rect x="565" y="66.6" width="36" height="3.4" rx="0.8" fill="#e6e6e6"/>
<rect x="575" y="72.2" width="14" height="1.6" fill="#a8a8a8"/><rect x="551" y="76.3" width="62" height="1.5" fill="#2a2a2a"/><rect x="555.5" y="75.2" width="6.5" height="1" fill="#222"/><rect x="563.5" y="75.2" width="3.5" height="1" fill="#222"/>
<rect x="131.4" y="228.6" width="59.8" height="12.6" fill="#ededed"/><rect x="131.4" y="241" width="59.8" height="13.4" fill="#d3d3d3"/>
<ellipse cx="134.4" cy="250.3" rx="3.1" ry="2.6" fill="#3f9d3a"/><ellipse cx="134.4" cy="250.1" rx="1.8" ry="1.2" fill="#7fd06f"/>
<ellipse cx="140.8" cy="250.3" rx="3.1" ry="2.6" fill="#3f9d3a"/><ellipse cx="140.8" cy="250.1" rx="1.8" ry="1.2" fill="#7fd06f"/>
<ellipse cx="147.2" cy="250.3" rx="3.1" ry="2.6" fill="#3f9d3a"/><ellipse cx="147.2" cy="250.1" rx="1.8" ry="1.2" fill="#7fd06f"/>
<ellipse cx="153.6" cy="250.3" rx="3.1" ry="2.6" fill="#3f9d3a"/><ellipse cx="153.6" cy="250.1" rx="1.8" ry="1.2" fill="#7fd06f"/>
<ellipse cx="160.0" cy="250.3" rx="3.1" ry="2.6" fill="#3f9d3a"/><ellipse cx="160.0" cy="250.1" rx="1.8" ry="1.2" fill="#7fd06f"/>
<ellipse cx="167.2" cy="250.3" rx="3" ry="2.5" fill="#a9adb4"/><ellipse cx="167.2" cy="250.1" rx="1.7" ry="1.2" fill="#d4d7dc"/>
<ellipse cx="173.7" cy="250.3" rx="3" ry="2.5" fill="#a9adb4"/><ellipse cx="173.7" cy="250.1" rx="1.7" ry="1.2" fill="#d4d7dc"/>
<ellipse cx="180.2" cy="250.3" rx="3" ry="2.5" fill="#a9adb4"/><ellipse cx="180.2" cy="250.1" rx="1.7" ry="1.2" fill="#d4d7dc"/>
<ellipse cx="186.8" cy="250.3" rx="3.1" ry="2.7" fill="#f08c1e"/><ellipse cx="186.8" cy="250.1" rx="1.4" ry="1.1" fill="#f9b45c"/>
<rect x="30.9" y="400.5" width="42.4" height="30" rx="0.6" fill="#11161c"/><rect x="30.9" y="429.6" width="42.4" height="0.9" fill="#27558f"/><use href="#sD" x="32.8" y="402.2" width="38.3" height="25.2"/><path d="M46.8 430.5H58.0L58.6 432.4H46.2Z" fill="#1b2026"/><path d="M42.8 434.7Q43.2 432.2 47.4 432.0H57.4Q61.6 432.2 62.0 434.7Z" fill="#14181d"/>
<rect x="103.1" y="400.2" width="42.4" height="30.3" rx="0.6" fill="#11161c"/><rect x="103.1" y="429.6" width="42.4" height="0.9" fill="#27558f"/><use href="#sP" x="105.0" y="401.9" width="38.3" height="25.5"/><path d="M119.0 430.5H130.2L130.8 432.4H118.4Z" fill="#1b2026"/><path d="M115.0 434.7Q115.4 432.2 119.6 432.0H129.6Q133.8 432.2 134.2 434.7Z" fill="#14181d"/>
<rect x="185.8" y="401.2" width="42.2" height="29.7" rx="0.6" fill="#11161c"/><rect x="185.8" y="430.0" width="42.2" height="0.9" fill="#27558f"/><use href="#sFs" x="187.7" y="402.9" width="38.1" height="24.9"/><path d="M201.6 430.9H212.8L213.4 432.8H201.0Z" fill="#1b2026"/><path d="M197.6 435.1Q198.0 432.6 202.2 432.4H212.2Q216.4 432.6 216.8 435.1Z" fill="#14181d"/>
<rect x="280.4" y="321.4" width="42.5" height="30" rx="0.6" fill="#11161c"/><rect x="280.4" y="350.5" width="42.5" height="0.9" fill="#27558f"/><use href="#sYm" x="282.3" y="323.1" width="38.4" height="25.2"/><path d="M296.3 351.4H307.6L308.1 353.3H295.8Z" fill="#1b2026"/><path d="M292.3 355.6Q292.8 353.1 296.9 352.9H306.9Q311.1 353.1 311.6 355.6Z" fill="#14181d"/>
<rect x="421.1" y="414.1" width="42.4" height="30.1" rx="0.6" fill="#11161c"/><rect x="421.1" y="443.3" width="42.4" height="0.9" fill="#27558f"/><use href="#sFs" x="423.0" y="415.8" width="38.3" height="25.3"/><path d="M437.0 444.2H448.2L448.8 446.1H436.4Z" fill="#1b2026"/><path d="M433.0 448.4Q433.4 445.9 437.6 445.7H447.6Q451.8 445.9 452.2 448.4Z" fill="#14181d"/>
<rect x="519.8" y="345.9" width="43.0" height="30.2" rx="0.6" fill="#11161c"/><rect x="519.8" y="375.2" width="43.0" height="0.9" fill="#27558f"/><use href="#sD" x="521.7" y="347.6" width="38.9" height="25.4"/><path d="M536.0 376.1H547.2L547.8 378.0H535.4Z" fill="#1b2026"/><path d="M532.0 380.3Q532.4 377.8 536.6 377.6H546.6Q550.8 377.8 551.2 380.3Z" fill="#14181d"/>
</g>
<g filter="url(#nop)"><text x="139.7" y="239.3" font-size="8.6" font-weight="bold" fill="#3a3a3a" textLength="44.4" lengthAdjust="spacingAndGlyphs"  stroke="#3a3a3a" stroke-width="0.25">Lan Switch</text></g>
<g id="wall">
<rect x="497" y="405" width="117.3" height="185.6" fill="#fff" stroke="#d9d9d9" stroke-width="1"/>
<rect x="614.3" y="405" width="116.8" height="185.6" fill="#fff" stroke="#d9d9d9" stroke-width="1"/>
<use href="#sDW" x="500.3" y="408.3" width="111.3" height="87.5"/>
<rect x="554.5" y="408.3" width="2.8" height="87.5" fill="#e4f3fb"/><rect x="500.3" y="450.5" width="111.3" height="2.8" fill="#e4f3fb"/>
<use href="#sF" x="618.2" y="408.3" width="109.1" height="87.5"/>
<rect x="671.7" y="408.3" width="2.4" height="87.5" fill="#f2f4f7"/><rect x="618.2" y="450.5" width="109.1" height="2.8" fill="#f2f4f7"/>
<use href="#sY" x="500.3" y="500.3" width="54.2" height="42.5"/>
<use href="#sFs" x="557.3" y="500.3" width="54.3" height="42.5"/>
<use href="#sY" x="500.3" y="545.3" width="54.2" height="42.7"/>
<use href="#sP" x="557.3" y="545.3" width="54.3" height="42.7"/>
<use href="#sP" x="618.2" y="501.4" width="53.5" height="41.9"/>
<use href="#sY" x="674.1" y="501.4" width="53.5" height="41.9"/>
<use href="#sY" x="618.2" y="546.3" width="53.5" height="42.3"/>
<use href="#sD" x="674.1" y="546.3" width="53.5" height="42.3"/>
</g>
<g id="logo">
<path d="M67.9 530.3H82.4L106.6 585.8H93.1L74.5 546.3L60.7 576.8H86.4L83.3 585.8H41.8Z" fill="#f39b1c"/>
<path d="M116.10 551.00H129.40Q136.40 551.00 136.40 558.00V569.80Q136.40 576.80 129.40 576.80H116.10Q109.10 576.80 109.10 569.80V558.00Q109.10 551.00 116.10 551.00Z" fill="#1a7fd0"/><path d="M119.70 557.20H126.40Q129.40 557.20 129.40 560.20V567.60Q129.40 570.60 126.40 570.60H119.70Q116.70 570.60 116.70 567.60V560.20Q116.70 557.20 119.70 557.20ZM128.5 560.2H137V567.5H128.5Z" fill="#fff"/>
<path d="M141.50 559.4V556.5Q141.50 551 147.50 551H160.30Q166.80 551 166.80 557.5V576.8H159.50V559.5Q159.50 557.3 157.30 557.3H151.00Q149.00 557.3 149.00 559.4Z" fill="#1a7fd0"/><path d="M147.10 561.60H158.40Q164.80 561.60 164.80 568.00V570.40Q164.80 576.80 158.40 576.80H147.10Q140.70 576.80 140.70 570.40V568.00Q140.70 561.60 147.10 561.60Z" fill="#1a7fd0"/><path d="M150.20 565.80H157.10Q159.70 565.80 159.70 568.40V568.80Q159.70 571.40 157.10 571.40H150.20Q147.60 571.40 147.60 568.80V568.40Q147.60 565.80 150.20 565.80Z" fill="#fff"/>
<path d="M193.70 559.4V556.5Q193.70 551 199.70 551H213.40Q219.90 551 219.90 557.5V576.8H212.60V559.5Q212.60 557.3 210.40 557.3H203.20Q201.20 557.3 201.20 559.4Z" fill="#1a7fd0"/><path d="M199.30 561.60H211.50Q217.90 561.60 217.90 568.00V570.40Q217.90 576.80 211.50 576.80H199.30Q192.90 576.80 192.90 570.40V568.00Q192.90 561.60 199.30 561.60Z" fill="#1a7fd0"/><path d="M202.40 565.80H210.20Q212.80 565.80 212.80 568.40V568.80Q212.80 571.40 210.20 571.40H202.40Q199.80 571.40 199.80 568.80V568.40Q199.80 565.80 202.40 565.80Z" fill="#fff"/>
<path d="M176.7 576.8V559H171.7V553H176.7V550.8Q176.7 543.1 185 543.1H192.9L191.6 548.8H187.2Q184.2 548.8 184.2 551.4V553H188.9V559H184.2V576.8Z" fill="#1a7fd0"/>
</g>
<g filter="url(#nop)"><text x="110.3" y="585.9" font-size="9.4" fill="#939393" textLength="108.8" lengthAdjust="spacing">www.acafa.com.tw</text></g>
</g>
</svg>
</body></html>
